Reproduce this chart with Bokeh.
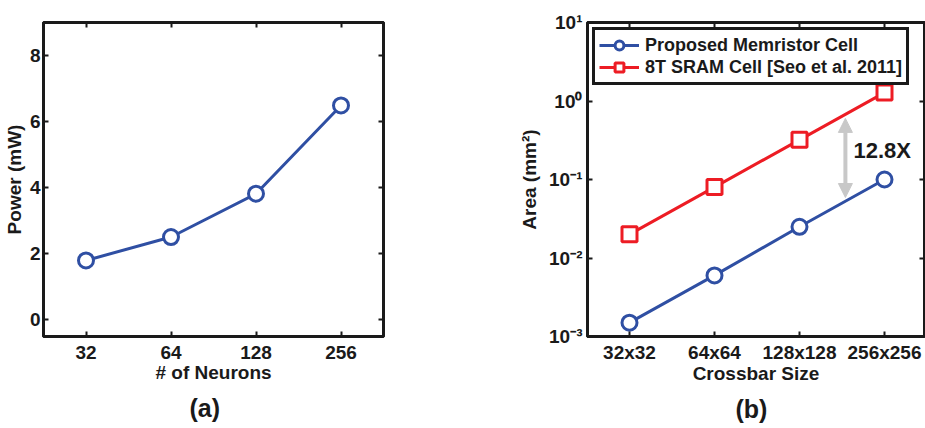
from bokeh.plotting import figure
from bokeh.layouts import row
from bokeh.models import (LinearAxis, LogAxis, FixedTicker, CustomJSTickFormatter, Label,
                          Arrow, NormalHead, Legend, LegendItem, Range1d, Title)
from bokeh.embed import file_html
from bokeh.resources import INLINE

# ---------------- data ----------------
neurons = ["32", "64", "128", "256"]
power_mw = [1.80, 2.51, 3.82, 6.49]

crossbar = ["32x32", "64x64", "128x128", "256x256"]
memristor_area = [0.0015, 0.006, 0.025, 0.1]
sram_area = [0.02, 0.08, 0.32, 1.28]

power_ticks = [0, 2, 4, 6, 8]
area_ticks = [1e-3, 1e-2, 1e-1, 1, 10]
area_tick_labels = ["10\u207b\u00b3", "10\u207b\u00b2", "10\u207b\u00b9", "10\u2070", "10\u00b9"]

# ---------------- style ----------------
FONT = "Liberation Sans"
BLUE = "#2f4fa3"
RED = "#ed1c24"
GRAY = "#c8c8c8"
INK = "#1a1a1a"


def style_axis(ax, labels=True, title=None):
    ax.axis_line_color = INK
    ax.axis_line_width = 3
    ax.major_tick_in = 5
    ax.major_tick_out = 0
    ax.major_tick_line_color = INK
    ax.major_tick_line_width = 2
    ax.minor_tick_in = 0
    ax.minor_tick_out = 0
    ax.major_label_text_font = FONT
    ax.major_label_text_font_style = "bold"
    ax.major_label_text_font_size = "19px"
    ax.major_label_text_color = INK
    if not labels:
        ax.formatter = CustomJSTickFormatter(code="return ''")
        ax.major_label_standoff = 0
    if title is not None:
        ax.axis_label = title
        ax.axis_label_text_font = FONT
        ax.axis_label_text_font_style = "bold"
        ax.axis_label_text_font_size = "19px"
        ax.axis_label_text_color = INK


def base_fig(**kw):
    p = figure(output_backend="svg", toolbar_location=None, **kw)
    p.grid.visible = False
    p.outline_line_color = INK
    p.outline_line_width = 3
    p.outline_line_alpha = 1.0
    p.background_fill_color = "white"
    p.border_fill_color = "white"
    return p


def caption(text, offset, standoff):
    return Title(text=text, align="left", offset=offset, standoff=standoff, text_font=FONT,
                 text_font_style="bold", text_font_size="25px", text_color=INK)


# ---------------- panel (a) ----------------
xa_idx = list(range(len(neurons)))
pa = base_fig(width=463, height=428, x_range=Range1d(-0.5, 3.5), y_range=Range1d(-0.5, 9.0),
              min_border_left=43, min_border_right=80, min_border_top=22, min_border_bottom=92)
xa = pa.xaxis[0]
xa.ticker = FixedTicker(ticks=xa_idx)
xa.major_label_overrides = {i: s for i, s in enumerate(neurons)}
style_axis(xa, title="# of Neurons")
xa.major_label_standoff = 9
xa.axis_label_standoff = 0
ya = pa.yaxis[0]
ya.ticker = FixedTicker(ticks=power_ticks)
style_axis(ya, title="Power (mW)")
ya.major_label_standoff = 3
ya.axis_label_standoff = 2

top_a = LinearAxis(ticker=FixedTicker(ticks=xa_idx))
style_axis(top_a, labels=False)
pa.add_layout(top_a, "above")
right_a = LinearAxis(ticker=FixedTicker(ticks=power_ticks))
style_axis(right_a, labels=False)
pa.add_layout(right_a, "right")

pa.line(xa_idx, power_mw, line_color=BLUE, line_width=3)
pa.scatter(xa_idx, power_mw, marker="circle", size=15, line_color=BLUE, line_width=3,
           fill_color="white")

pa.add_layout(caption("(a)", 146, 13), "below")

# ---------------- panel (b) ----------------
xb_idx = list(range(len(crossbar)))
pb = base_fig(width=462, height=428, x_range=Range1d(-42 / 85, 295 / 85),
              y_range=Range1d(1e-3, 10), y_axis_type="log",
              min_border_left=124, min_border_right=1, min_border_top=22, min_border_bottom=92)
xb = pb.xaxis[0]
xb.ticker = FixedTicker(ticks=xb_idx)
xb.major_label_overrides = {i: s for i, s in enumerate(crossbar)}
style_axis(xb, title="Crossbar Size")
xb.major_label_standoff = 5
xb.axis_label_standoff = -3
yb = pb.yaxis[0]
yb.ticker = FixedTicker(ticks=area_ticks)
yb.major_label_overrides = {t: s for t, s in zip(area_ticks, area_tick_labels)}
style_axis(yb, title="Area (mm\u00b2)")
yb.major_label_standoff = 5
yb.axis_label_standoff = 6

top_b = LinearAxis(ticker=FixedTicker(ticks=xb_idx))
style_axis(top_b, labels=False)
pb.add_layout(top_b, "above")
right_b = LogAxis(ticker=FixedTicker(ticks=area_ticks))
style_axis(right_b, labels=False)
pb.add_layout(right_b, "right")

l_mem = pb.line(xb_idx, memristor_area, line_color=BLUE, line_width=3)
s_mem = pb.scatter(xb_idx, memristor_area, marker="circle", size=15, line_color=BLUE,
                   line_width=3, fill_color="white")
l_sram = pb.line(xb_idx, sram_area, line_color=RED, line_width=3)
s_sram = pb.scatter(xb_idx, sram_area, marker="square", size=15, line_color=RED,
                    line_width=3, fill_color="white")

legend = Legend(items=[LegendItem(label="Proposed Memristor Cell", renderers=[l_mem, s_mem]),
                       LegendItem(label="8T SRAM Cell [Seo et al. 2011]", renderers=[l_sram, s_sram])],
                location="top_left", margin=5, padding=4, spacing=0,
                label_height=22, glyph_height=22, glyph_width=40, label_standoff=6,
                label_text_font=FONT, label_text_font_style="bold", label_text_font_size="18px",
                label_text_color=INK, border_line_color=INK, border_line_width=3,
                border_line_alpha=1.0,
                background_fill_color="white", background_fill_alpha=1.0)
pb.add_layout(legend)

# ratio annotation
ratio = sram_area[-1] / memristor_area[-1]
ARROW_X, ARROW_TOP, ARROW_BOTTOM = 2.54, 0.60, 0.059
pb.add_layout(Arrow(x_start=ARROW_X, y_start=ARROW_BOTTOM, x_end=ARROW_X, y_end=ARROW_TOP,
                    line_color=GRAY, line_width=4,
                    start=NormalHead(size=14, fill_color=GRAY, line_color=GRAY),
                    end=NormalHead(size=14, fill_color=GRAY, line_color=GRAY)))
pb.add_layout(Label(x=2.635, y=0.234, text=f"{ratio:.1f}X", text_font=FONT,
                    text_font_style="bold", text_font_size="22px", text_color=INK,
                    text_align="left", text_baseline="middle"))

pb.add_layout(caption("(b)", 148, 12), "below")

layout = row(pa, pb, spacing=0)
open("out.html", "w").write(file_html(layout, INLINE))
